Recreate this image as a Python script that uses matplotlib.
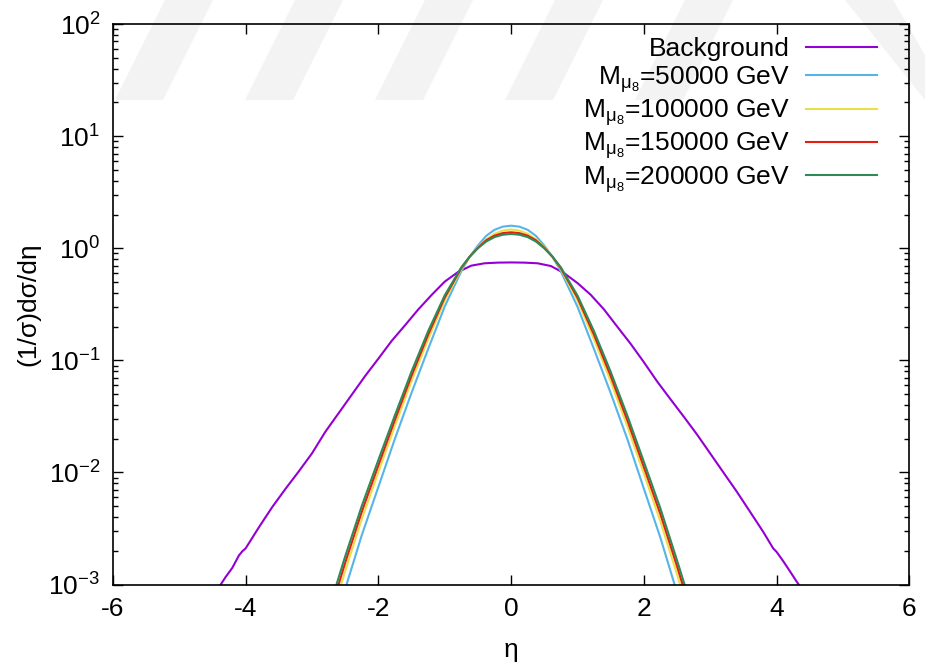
import matplotlib
matplotlib.use("Agg")
import matplotlib.pyplot as plt
from matplotlib.patches import Polygon
from matplotlib.ticker import LogLocator, NullFormatter

plt.rcParams['font.family'] = ['Liberation Sans', 'DejaVu Sans']
plt.rcParams['mathtext.fontset'] = 'custom'
plt.rcParams['mathtext.rm'] = 'Liberation Sans'
plt.rcParams['mathtext.it'] = 'Liberation Sans'
plt.rcParams['mathtext.default'] = 'regular'
plt.rcParams['axes.unicode_minus'] = False

# background
eta_bkg = [-4.4, -4.3, -4.2, -4.1, -4.05, -4.0, -3.8, -3.6, -3.4, -3.2, -3.0, -2.8,
           -2.6, -2.4, -2.2, -2.0, -1.8, -1.6, -1.4, -1.2, -1.0, -0.8, -0.6, -0.4,
           -0.2, 0.0, 0.2, 0.4, 0.6, 0.8, 1.0, 1.2, 1.4, 1.6, 1.8, 2.0, 2.2, 2.4,
           2.6, 2.8, 3.0, 3.2, 3.4, 3.6, 3.8, 3.95, 4.0, 4.1, 4.2, 4.3, 4.4]
bkg = [0.00095, 0.00117, 0.00141, 0.00182, 0.00198, 0.00210, 0.00324, 0.0049, 0.00713,
       0.0102, 0.0148, 0.0230, 0.0337, 0.0494, 0.0724, 0.1035, 0.149, 0.205, 0.284,
       0.382, 0.504, 0.614, 0.700, 0.735, 0.745, 0.748, 0.745, 0.735, 0.695, 0.600,
       0.490, 0.385, 0.285, 0.200, 0.141, 0.0966, 0.065, 0.0452, 0.0316, 0.0219,
       0.0148, 0.0100, 0.00676, 0.00447, 0.00295, 0.00210, 0.00196, 0.00162, 0.00132,
       0.00107, 0.00088]

# signal samples
eta_sig = [-2.75, -2.5, -2.25, -2.0, -1.75, -1.5, -1.25, -1.0, -0.75, -0.625, -0.5,
           -0.375, -0.25, -0.125, 0.0, 0.125, 0.25, 0.375, 0.5, 0.625, 0.75, 1.0, 1.25,
           1.5, 1.75, 2.0, 2.25, 2.5, 2.75]
m50k = [0.000282, 0.000912, 0.00275, 0.00741, 0.0200, 0.0513, 0.126, 0.302, 0.624,
        0.838, 1.059, 1.291, 1.462, 1.560, 1.592, 1.560, 1.462, 1.291, 1.059, 0.838,
        0.624, 0.302, 0.126, 0.0513, 0.0200, 0.00720, 0.00262, 0.00085, 0.000260]
m100k = [0.000423, 0.00132, 0.00383, 0.01005, 0.0260, 0.0653, 0.154, 0.343, 0.652,
         0.836, 1.026, 1.201, 1.346, 1.439, 1.472, 1.439, 1.346, 1.201, 1.026, 0.836,
         0.652, 0.343, 0.154, 0.0653, 0.0260, 0.00980, 0.00365, 0.00124, 0.000395]
m150k = [0.000508, 0.00156, 0.00445, 0.01153, 0.0294, 0.0728, 0.169, 0.363, 0.665,
         0.839, 1.012, 1.179, 1.297, 1.366, 1.390, 1.366, 1.297, 1.179, 1.012, 0.839,
         0.665, 0.363, 0.169, 0.0728, 0.0294, 0.01120, 0.00425, 0.00146, 0.000475]
m200k = [0.000589, 0.00178, 0.00501, 0.0129, 0.0324, 0.0794, 0.182, 0.380, 0.676,
         0.841, 1.000, 1.149, 1.259, 1.321, 1.343, 1.321, 1.259, 1.149, 1.000, 0.841,
         0.676, 0.380, 0.182, 0.0794, 0.0324, 0.01250, 0.00478, 0.00165, 0.000550]

labels = ['Background',
          r'M$_{\mu_8}$=50000 GeV',
          r'M$_{\mu_8}$=100000 GeV',
          r'M$_{\mu_8}$=150000 GeV',
          r'M$_{\mu_8}$=200000 GeV']
colors = ['#9400d3', '#56b4e9', '#e8e04a', '#e51e10', '#2e8b57']

fig = plt.figure(figsize=(9.25, 6.7), dpi=100)

# faint watermark stripes at the top
for x0 in [165, 295, 425, 555, 685]:
    pts = [(x0 / 925, 1.0), ((x0 + 48) / 925, 1.0),
           ((x0 - 2) / 925, 1 - 100 / 670), ((x0 - 50) / 925, 1 - 100 / 670)]
    fig.patches.append(Polygon(pts, closed=True, transform=fig.transFigure,
                               facecolor='#f3f3f3', edgecolor='none', zorder=0))
pts = [(845 / 925, 1.0), (893 / 925, 1.0), (925 / 925, 1 - 55 / 670), (925 / 925, 1 - 100 / 670)]
fig.patches.append(Polygon(pts, closed=True, transform=fig.transFigure,
                           facecolor='#f3f3f3', edgecolor='none', zorder=0))

ax = fig.add_axes([0.122, 0.1275, 0.861, 0.8365])
ax.set_facecolor('none')
ax.set_zorder(2)

ax.plot(eta_bkg, bkg, color=colors[0], lw=1.5, label=labels[0])
ax.plot(eta_sig, m50k, color=colors[1], lw=1.5, label=labels[1])
ax.plot(eta_sig, m100k, color=colors[2], lw=1.5, label=labels[2])
ax.plot(eta_sig, m150k, color=colors[3], lw=1.5, label=labels[3])
ax.plot(eta_sig, m200k, color=colors[4], lw=1.5, label=labels[4])

ax.set_yscale('log')
ax.set_xlim(-6, 6)
ax.set_ylim(1e-3, 1e2)
ax.set_xticks([-6, -4, -2, 0, 2, 4, 6])
ax.yaxis.set_minor_locator(LogLocator(base=10, subs=range(2, 10)))
ax.yaxis.set_minor_formatter(NullFormatter())
ax.tick_params(which='both', direction='in', top=True, right=True, labelsize=19, width=1)
ax.tick_params(which='major', length=7, pad=9)
ax.tick_params(which='minor', length=3.5)
for s in ax.spines.values():
    s.set_linewidth(1.2)

ax.set_xlabel('η', fontsize=19, labelpad=12)
ax.set_ylabel('(1/σ)dσ/dη', fontsize=19, labelpad=6)

leg = ax.legend(loc='upper right', bbox_to_anchor=(0.976, 1.0), frameon=False,
                markerfirst=False, fontsize=19, handlelength=2.7, handletextpad=0.6,
                labelspacing=0.1, borderpad=0.0)
for line in leg.get_lines():
    line.set_linewidth(1.5)

fig.savefig('out.png', dpi=100)
